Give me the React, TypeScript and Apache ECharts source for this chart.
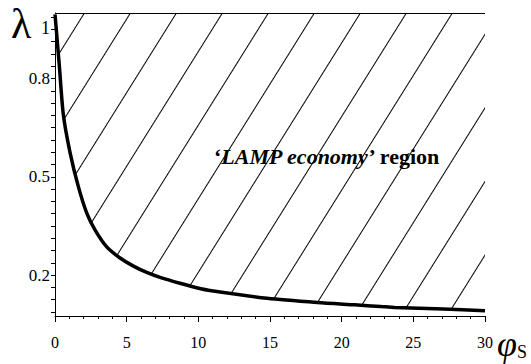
import React, { useEffect, useRef } from "react";
import * as echarts from "echarts";

const phiValues = [0, 0.3, 0.58, 1.05, 1.63, 2.21, 2.79, 3.61, 4.54, 5.44, 6.4, 7.33, 8.72, 10.1, 10.8, 14.8, 18.3, 20.9, 22.7, 23.7, 27.1, 30];
const lambdaValues = [0.996, 0.84, 0.69, 0.574, 0.47, 0.39, 0.338, 0.286, 0.252, 0.228, 0.208, 0.193, 0.175, 0.159, 0.153, 0.129, 0.116, 0.109, 0.104, 0.101, 0.096, 0.091];
const yLabelValues = [0.2, 0.5, 0.8, 1];
const yTickValues = [0.0875, 0.125, 0.1625, 0.2, 0.2375, 0.275, 0.3125, 0.35, 0.3875, 0.425, 0.4625, 0.5, 0.5375, 0.575, 0.6125, 0.65, 0.6875, 0.725, 0.7625, 0.8, 0.8375, 0.875, 0.9125, 0.95, 0.9875];
const regionLabel = ["‘", "LAMP economy", "’ region"];

const TIMES = "Times New Roman";

export default function App() {
  const ref = useRef<HTMLDivElement>(null);
  useEffect(() => {
    if (!ref.current) return;
    const chart = echarts.init(ref.current, null, { renderer: "svg" });
    const data = phiValues.map((p, i) => [p, lambdaValues[i]]);
    chart.setOption({
      animation: false,
      backgroundColor: "#fff",
      grid: { left: 55, right: 46, top: 13, bottom: 48, containLabel: false },
      xAxis: {
        type: "value",
        min: 0,
        max: 30,
        interval: 5,
        axisLine: { show: true, lineStyle: { color: "#000", width: 1 } },
        axisTick: { show: true, length: 6, lineStyle: { color: "#000" } },
        minorTick: { show: true, splitNumber: 5, length: 3, lineStyle: { color: "#000" } },
        splitLine: { show: false },
        axisLabel: { color: "#000", fontFamily: TIMES, fontSize: 16, margin: 18 },
      },
      yAxis: {
        type: "value",
        min: 0.075,
        max: 1,
        axisLine: { show: true, lineStyle: { color: "#000", width: 1 } },
        axisTick: { show: true, length: 4, customValues: yTickValues, lineStyle: { color: "#000" } },
        splitLine: { show: false },
        axisLabel: {
          customValues: yLabelValues,
          color: "#000",
          fontFamily: TIMES,
          fontSize: 17,
          margin: 5,
          formatter: (v: number) => (Math.abs(v - 1) < 1e-6 ? "{one|1}" : String(v)),
          rich: { one: { fontFamily: TIMES, fontSize: 18, color: "#000", padding: [30, 0, 0, 0] } },
        },
      },
      series: [
        {
          type: "line",
          data,
          smooth: 0.25,
          showSymbol: false,
          lineStyle: { color: "#000", width: 3.5 },
          itemStyle: {
            color: "#000",
            decal: {
              symbol: "rect",
              symbolSize: 1,
              dashArrayX: [1, 0],
              dashArrayY: [1, 38],
              rotation: -Math.PI * 58 / 180,
              color: "#000",
              backgroundColor: "#fff",
            },
          },
          areaStyle: { origin: "end", color: "#fff", opacity: 1 },
          markLine: {
            silent: true,
            symbol: "none",
            label: { show: false },
            lineStyle: { color: "#000", width: 1, type: "solid" },
            data: [{ yAxis: 1 }],
          },
          z: 2,
        },
      ],
      graphic: [
        {
          type: "text",
          left: 11,
          top: 3,
          z: 100,
          style: { text: "λ", fontFamily: TIMES, fontSize: 42, fill: "#000" },
        },
        {
          type: "text",
          left: 497,
          top: 326,
          z: 100,
          style: {
            text: "{p|φ}{s|S}",
            rich: {
              p: { fontFamily: TIMES, fontStyle: "italic", fontSize: 36, fill: "#000" },
              s: { fontFamily: TIMES, fontSize: 18, fill: "#000", padding: [16, 0, 0, 0] },
            },
          },
        },
        {
          type: "text",
          left: 214,
          top: 145,
          z: 100,
          style: {
            text: `{a|${regionLabel[0]}}{b|${regionLabel[1]}}{a|${regionLabel[2]}}`,
            rich: {
              a: { fontFamily: TIMES, fontWeight: "bold", fontSize: 22, fill: "#000" },
              b: { fontFamily: TIMES, fontWeight: "bold", fontStyle: "italic", fontSize: 22, fill: "#000" },
            },
          },
        },
      ],
    });
    return () => chart.dispose();
  }, []);
  return <div ref={ref} style={{ width: 531, height: 364, position: "absolute", left: 0, top: 0 }} />;
}
